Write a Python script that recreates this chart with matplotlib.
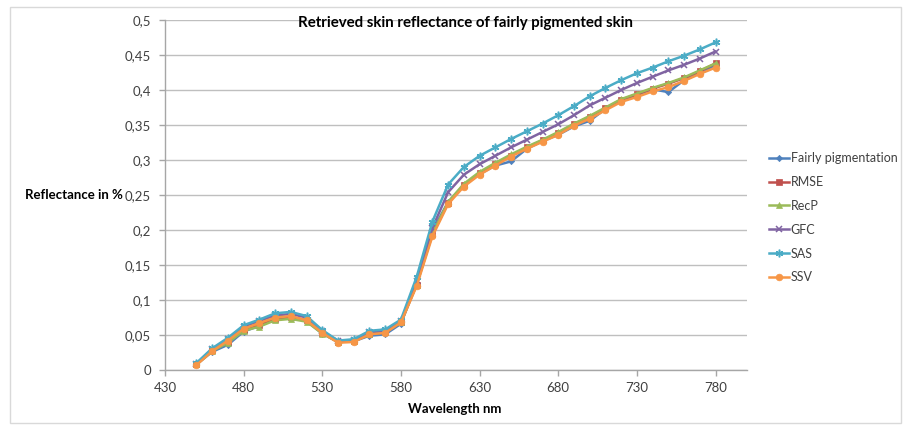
import matplotlib
matplotlib.use("Agg")
import matplotlib.pyplot as plt
from matplotlib.ticker import FuncFormatter, MultipleLocator
from matplotlib.patches import Rectangle

plt.rcParams['font.family'] = ['Lato', 'DejaVu Sans']

wavelength = [450, 460, 470, 480, 490, 500, 510, 520, 530, 540, 550, 560, 570, 580,
              590, 600, 610, 620, 630, 640, 650, 660, 670, 680, 690, 700, 710, 720,
              730, 740, 750, 760, 770, 780]

fairly = [0.008, 0.026, 0.036, 0.055, 0.063, 0.073, 0.075, 0.070, 0.052, 0.040, 0.041, 0.049,
          0.051, 0.066, 0.125, 0.199, 0.240, 0.264, 0.280, 0.292, 0.298, 0.316, 0.327, 0.336,
          0.348, 0.356, 0.373, 0.385, 0.393, 0.401, 0.397, 0.414, 0.424, 0.436]
rmse = [0.008, 0.028, 0.040, 0.057, 0.064, 0.073, 0.076, 0.071, 0.053, 0.040, 0.041, 0.051,
        0.054, 0.068, 0.122, 0.194, 0.239, 0.264, 0.281, 0.294, 0.306, 0.318, 0.328, 0.339,
        0.351, 0.362, 0.374, 0.386, 0.394, 0.402, 0.409, 0.417, 0.427, 0.438]
recp = [0.008, 0.027, 0.039, 0.056, 0.062, 0.071, 0.073, 0.069, 0.052, 0.040, 0.041, 0.051,
        0.054, 0.068, 0.122, 0.195, 0.240, 0.266, 0.283, 0.296, 0.308, 0.319, 0.329, 0.340,
        0.352, 0.363, 0.375, 0.387, 0.395, 0.403, 0.410, 0.418, 0.428, 0.438]
gfc = [0.009, 0.030, 0.044, 0.062, 0.070, 0.078, 0.080, 0.075, 0.056, 0.041, 0.043, 0.054,
       0.056, 0.070, 0.127, 0.203, 0.254, 0.279, 0.294, 0.306, 0.318, 0.329, 0.340, 0.351,
       0.364, 0.378, 0.389, 0.400, 0.410, 0.419, 0.428, 0.436, 0.445, 0.455]
sas = [0.010, 0.031, 0.046, 0.064, 0.072, 0.081, 0.083, 0.077, 0.057, 0.042, 0.044, 0.056,
       0.058, 0.072, 0.133, 0.212, 0.265, 0.290, 0.306, 0.318, 0.330, 0.341, 0.352, 0.364,
       0.377, 0.391, 0.403, 0.414, 0.424, 0.432, 0.441, 0.449, 0.458, 0.468]
ssv = [0.007, 0.027, 0.042, 0.059, 0.067, 0.075, 0.077, 0.071, 0.053, 0.039, 0.040, 0.051,
       0.053, 0.068, 0.120, 0.191, 0.237, 0.262, 0.279, 0.292, 0.305, 0.316, 0.326, 0.336,
       0.349, 0.359, 0.371, 0.383, 0.390, 0.398, 0.404, 0.413, 0.423, 0.432]

series_names = ['Fairly pigmentation', 'RMSE', 'RecP', 'GFC', 'SAS', 'SSV']
series_values = [fairly, rmse, recp, gfc, sas, ssv]
colors = ['#4F81BD', '#C0504D', '#9BBB59', '#8064A2', '#4BACC6', '#F79646']
markers = ['D', 's', '^', 'x', (6, 2, 0), 'o']
msizes = [3.2, 3.8, 3.8, 4.5, 5.5, 4.8]

W, H = 904, 425
fig = plt.figure(figsize=(W / 100, H / 100), dpi=100)
fig.patches.append(Rectangle((10 / W, 2 / H), (W - 13) / W, (H - 9) / H, transform=fig.transFigure,
                             fill=False, edgecolor='#D9D9D9', linewidth=1))

ax = fig.add_axes([165 / W, (H - 370) / H, (747 - 165) / W, 350 / H])
for name, vals, c, m, ms in zip(series_names, series_values, colors, markers, msizes):
    ax.plot(wavelength, vals, color=c, marker=m, markersize=ms, linewidth=1.8,
            markeredgewidth=1.1 if m in ('x',) or isinstance(m, tuple) else 0.5,
            markeredgecolor=c, label=name, solid_joinstyle='round')

ax.set_xlim(430, 800)
ax.set_ylim(0, 0.5)
ax.set_xticks([430, 480, 530, 580, 630, 680, 730, 780])
ax.yaxis.set_major_locator(MultipleLocator(0.05))
ax.yaxis.set_major_formatter(FuncFormatter(lambda v, p: ('%g' % round(v, 3)).replace('.', ',')))
ax.grid(axis='y', color='#BFBFBF', linewidth=1)
ax.set_axisbelow(True)
for s in ['top', 'right']:
    ax.spines[s].set_visible(False)
for s in ['left', 'bottom']:
    ax.spines[s].set_color('#A6A6A6')
    ax.spines[s].set_linewidth(1)
ax.tick_params(axis='both', colors='#A6A6A6', labelcolor='#404040', labelsize=9.5, length=4, width=1)
ax.tick_params(axis='x', pad=5)
ax.tick_params(axis='y', pad=6)

fig.text(465 / W, 1 - 23 / H, 'Retrieved skin reflectance of fairly pigmented skin',
         ha='center', va='center', fontsize=10.8, fontweight='bold', color='#000000')
fig.text(123 / W, 1 - 195 / H, 'Reflectance in %', ha='right', va='center',
         fontsize=9.5, fontweight='bold', color='#000000')
fig.text(455 / W, 1 - 409 / H, 'Wavelength nm', ha='center', va='center',
         fontsize=9.5, fontweight='bold', color='#000000')

leg = ax.legend(loc='upper left', bbox_to_anchor=(769 / W, 1 - 152 / H), bbox_transform=fig.transFigure,
                frameon=False, fontsize=9, handlelength=1.6, handletextpad=0.15,
                labelspacing=0.95, borderaxespad=0, borderpad=0)
for t in leg.get_texts():
    t.set_color('#404040')

fig.savefig('out.png', dpi=100)
